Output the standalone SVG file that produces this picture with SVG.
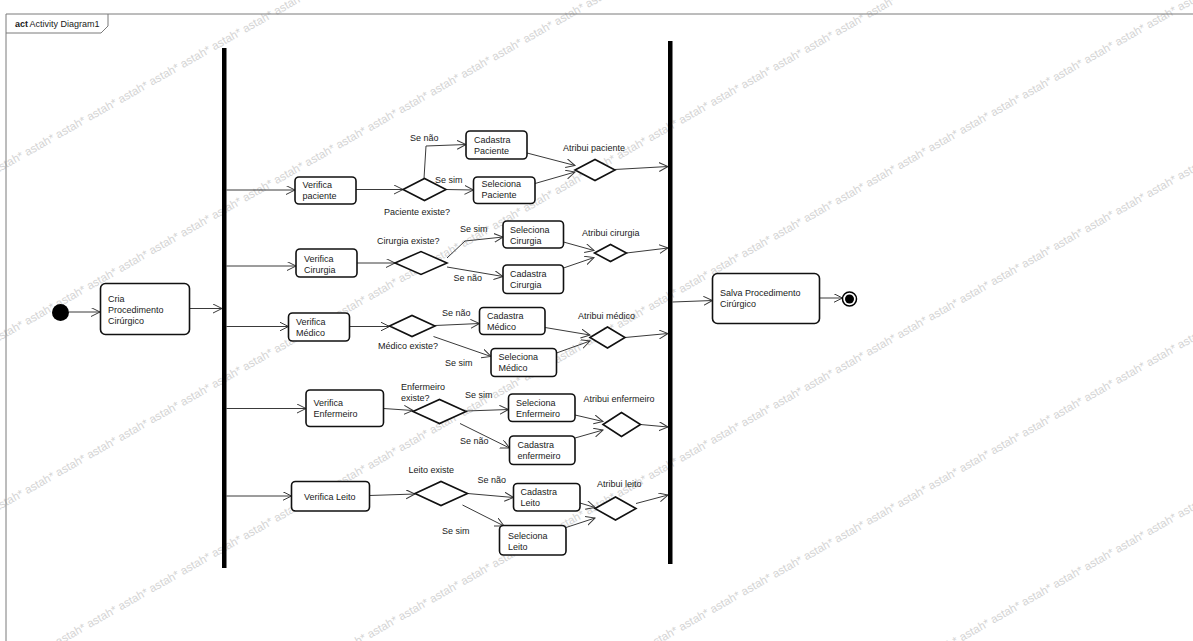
<svg xmlns="http://www.w3.org/2000/svg" xmlns:xlink="http://www.w3.org/1999/xlink" width="1193" height="641" viewBox="0 0 1193 641">
  <style>
    .t { font-family: "Liberation Sans", Arial, sans-serif; font-size: 9px; fill: #1a1a1a; }
    .b { font-weight: bold; }
    .wm { font-family: "Liberation Sans", Arial, sans-serif; font-size: 11.5px; fill: #d4d4d4; }
    .act { fill: #ffffff; stroke: #111111; stroke-width: 1.6; }
    .dec { fill: #ffffff; stroke: #111111; stroke-width: 1.6; }
    .bar { fill: #000000; }
    .edge { fill: none; stroke: #3a3a3a; stroke-width: 1; marker-end: url(#arr); }
    .frame { fill: none; stroke: #7a7a7a; stroke-width: 1; }
  </style>
  <defs>
    <marker id="arr" markerWidth="11" markerHeight="11" refX="9" refY="4.5" orient="auto" markerUnits="userSpaceOnUse">
      <path d="M0,0 L9,4.5 L0,9" fill="none" stroke="#3a3a3a" stroke-width="1"/>
    </marker>
    <text id="wm" class="wm">astah* astah* astah* astah* astah* astah* astah* astah* astah* astah* astah* astah* astah* astah* astah* astah* astah* astah* astah* astah* astah* astah* astah* astah* astah* astah* astah* astah* astah* astah* astah* astah* astah* astah* astah* astah* astah* astah* astah* astah* astah* astah* astah* astah* astah* astah* astah* astah* astah* astah* astah* astah* astah* astah* astah* astah* astah* astah* astah* astah* astah* astah* astah* astah* astah* astah* astah* astah* astah* astah* astah* astah*</text>
  </defs>

  <rect x="0" y="0" width="1193" height="641" fill="#ffffff"/>

  <!-- tool watermark bands -->
  <g id="watermark">
    <use xlink:href="#wm" transform="translate(-4,174) rotate(-29.5)"/>
    <use xlink:href="#wm" transform="translate(-4,343) rotate(-29.5)"/>
    <use xlink:href="#wm" transform="translate(-4,512) rotate(-29.5)"/>
    <use xlink:href="#wm" transform="translate(-4,681) rotate(-29.5)"/>
    <use xlink:href="#wm" transform="translate(-4,850) rotate(-29.5)"/>
    <use xlink:href="#wm" transform="translate(-4,1019) rotate(-29.5)"/>
    <use xlink:href="#wm" transform="translate(-4,1188) rotate(-29.5)"/>
  </g>

  <!-- diagram frame and name tab -->
  <g id="frame">
    <path class="frame" d="M6,641 L6,14 L1193,14"/>
    <path class="frame" d="M6,33 L101,33 L108,26 L108,14"/>
    <text class="t" x="15" y="27"><tspan class="b">act</tspan><tspan dx="1.5">Activity Diagram1</tspan></text>
  </g>

  <!-- connectors -->
  <g id="connectors">
    <path class="edge" d="M69,312 L100,312"/>
    <path class="edge" d="M189,308.5 L222,308.5"/>
    <!-- paciente -->
    <path class="edge" d="M226.5,190 L295,190"/>
    <path class="edge" d="M356,189.5 L403,189.5"/>
    <path class="edge" d="M424,178.5 L426,146 L466,144.5"/>
    <path class="edge" d="M446,189.5 L473.5,190"/>
    <path class="edge" d="M527,153 L575,165.5"/>
    <path class="edge" d="M535,183.5 L575,172"/>
    <path class="edge" d="M614.5,169.5 L668,166.5"/>
    <!-- cirurgia -->
    <path class="edge" d="M226.5,266 L296,266"/>
    <path class="edge" d="M357,263 L395,263"/>
    <path class="edge" d="M447,258 L465,241 L503,237"/>
    <path class="edge" d="M447,267 L503,276.5"/>
    <path class="edge" d="M563.5,242 L594,250.5"/>
    <path class="edge" d="M563.5,268 L594,257.5"/>
    <path class="edge" d="M626.5,253 L668,248"/>
    <!-- médico -->
    <path class="edge" d="M226.5,326.5 L288.5,326.5"/>
    <path class="edge" d="M349.5,326.5 L389.5,326.5"/>
    <path class="edge" d="M435,325.5 L479.5,323.5"/>
    <path class="edge" d="M433.5,336.5 L491,356.5"/>
    <path class="edge" d="M545,327.5 L590,335"/>
    <path class="edge" d="M556.5,353 L590,341"/>
    <path class="edge" d="M625,337.5 L668,333.5"/>
    <!-- enfermeiro -->
    <path class="edge" d="M226.5,408.5 L306,408.5"/>
    <path class="edge" d="M383.5,408.5 L413,410.5"/>
    <path class="edge" d="M466,411 L508.5,409.5"/>
    <path class="edge" d="M460,423.5 L509.5,448"/>
    <path class="edge" d="M575,415 L603,421.5"/>
    <path class="edge" d="M575,438 L603,430"/>
    <path class="edge" d="M640.5,424.5 L668,427"/>
    <!-- leito -->
    <path class="edge" d="M226.5,496 L291.5,496"/>
    <path class="edge" d="M369.5,495.5 L415,494"/>
    <path class="edge" d="M467.5,493.5 L513.5,497.5"/>
    <path class="edge" d="M462.5,505 L504,526"/>
    <path class="edge" d="M580,503 L595,507.5"/>
    <path class="edge" d="M566,527.5 L595,518"/>
    <path class="edge" d="M636,503.5 L668,495"/>
    <!-- join to save and end -->
    <path class="edge" d="M672.5,302 L712.5,300.5"/>
    <path class="edge" d="M819.5,298 L842.5,298"/>
  </g>

  <!-- initial node -->
  <g id="initial"><circle cx="60.5" cy="312.5" r="8.5" fill="#000"/></g>

  <g id="cria">
    <rect class="act" x="100.5" y="283.5" width="89" height="51" rx="5"/>
    <text class="t" x="108" y="302">Cria</text>
    <text class="t" x="108" y="313">Procedimento</text>
    <text class="t" x="108" y="324">Cirúrgico</text>
  </g>

  <g id="fork"><rect class="bar" x="222" y="48" width="4.5" height="520"/></g>
  <g id="join"><rect class="bar" x="668" y="41" width="4.5" height="523"/></g>

  <!-- paciente -->
  <g id="verificaPaciente">
    <rect class="act" x="295" y="177" width="61" height="27" rx="4"/>
    <text class="t" x="302.5" y="188">Verifica</text>
    <text class="t" x="302.5" y="199">paciente</text>
  </g>
  <g id="pacienteExiste">
    <polygon class="dec" points="403,189.5 424.5,178.5 446,189.5 424.5,200.5"/>
    <text class="t" x="384" y="215">Paciente existe?</text>
    <text class="t" x="410" y="141">Se não</text>
    <text class="t" x="435" y="183">Se sim</text>
  </g>
  <g id="cadastraPaciente">
    <rect class="act" x="466" y="131" width="61" height="28" rx="4"/>
    <text class="t" x="474" y="143">Cadastra</text>
    <text class="t" x="474" y="154">Paciente</text>
  </g>
  <g id="selecionaPaciente">
    <rect class="act" x="473.5" y="177" width="61.5" height="26.5" rx="4"/>
    <text class="t" x="481.5" y="187">Seleciona</text>
    <text class="t" x="481.5" y="198">Paciente</text>
  </g>
  <g id="atribuiPaciente">
    <polygon class="dec" points="575,170 595,159.5 615,170 595,180.5"/>
    <text class="t" x="563" y="151">Atribui paciente</text>
  </g>

  <!-- cirurgia -->
  <g id="verificaCirurgia">
    <rect class="act" x="296" y="249" width="61" height="28" rx="4"/>
    <text class="t" x="304" y="261.5">Verifica</text>
    <text class="t" x="304" y="272.5">Cirurgia</text>
  </g>
  <g id="cirurgiaExiste">
    <polygon class="dec" points="395,263 421,251.5 447,263 421,274.5"/>
    <text class="t" x="377" y="244">Cirurgia existe?</text>
    <text class="t" x="460" y="232">Se sim</text>
    <text class="t" x="453.5" y="281">Se não</text>
  </g>
  <g id="selecionaCirurgia">
    <rect class="act" x="503" y="221" width="60.5" height="27" rx="4"/>
    <text class="t" x="510" y="233">Seleciona</text>
    <text class="t" x="510" y="244">Cirurgia</text>
  </g>
  <g id="cadastraCirurgia">
    <rect class="act" x="503" y="265" width="60.5" height="28.5" rx="4"/>
    <text class="t" x="510" y="277">Cadastra</text>
    <text class="t" x="510" y="288">Cirurgia</text>
  </g>
  <g id="atribuiCirurgia">
    <polygon class="dec" points="594.5,253 610.5,244.5 626.5,253 610.5,261.5"/>
    <text class="t" x="582" y="235.5">Atribui cirurgia</text>
  </g>

  <!-- médico -->
  <g id="verificaMedico">
    <rect class="act" x="288.5" y="313" width="61" height="28" rx="4"/>
    <text class="t" x="296" y="324.5">Verifica</text>
    <text class="t" x="296" y="335.5">Médico</text>
  </g>
  <g id="medicoExiste">
    <polygon class="dec" points="389.5,326 412,315.5 435,326 412,336.5"/>
    <text class="t" x="378" y="349">Médico existe?</text>
    <text class="t" x="442" y="316">Se não</text>
    <text class="t" x="445" y="366">Se sim</text>
  </g>
  <g id="cadastraMedico">
    <rect class="act" x="479.5" y="307.5" width="65.5" height="27" rx="4"/>
    <text class="t" x="487" y="319">Cadastra</text>
    <text class="t" x="487" y="330">Médico</text>
  </g>
  <g id="selecionaMedico">
    <rect class="act" x="491" y="348.5" width="65.5" height="28" rx="4"/>
    <text class="t" x="498.5" y="360">Seleciona</text>
    <text class="t" x="498.5" y="371">Médico</text>
  </g>
  <g id="atribuiMedico">
    <polygon class="dec" points="590,337.5 607.5,327 625,337.5 607.5,348"/>
    <text class="t" x="578" y="318.5">Atribui médico</text>
  </g>

  <!-- enfermeiro -->
  <g id="verificaEnfermeiro">
    <rect class="act" x="306" y="390" width="77.5" height="36.5" rx="4"/>
    <text class="t" x="313.5" y="405.5">Verifica</text>
    <text class="t" x="313.5" y="417">Enfermeiro</text>
  </g>
  <g id="enfermeiroExiste">
    <polygon class="dec" points="413,411.5 439.5,399.5 466,411.5 439.5,423.5"/>
    <text class="t" x="401" y="390">Enfermeiro</text>
    <text class="t" x="401" y="401">existe?</text>
    <text class="t" x="465" y="398">Se sim</text>
    <text class="t" x="460" y="444">Se não</text>
  </g>
  <g id="selecionaEnfermeiro">
    <rect class="act" x="508.5" y="394" width="66.5" height="27.5" rx="4"/>
    <text class="t" x="516" y="405.5">Seleciona</text>
    <text class="t" x="516" y="417">Enfermeiro</text>
  </g>
  <g id="cadastraEnfermeiro">
    <rect class="act" x="509.5" y="436" width="65.5" height="28.5" rx="4"/>
    <text class="t" x="517.5" y="448">Cadastra</text>
    <text class="t" x="517.5" y="459">enfermeiro</text>
  </g>
  <g id="atribuiEnfermeiro">
    <polygon class="dec" points="603,424.5 621.5,412.5 640.5,424.5 621.5,436.5"/>
    <text class="t" x="583.5" y="401.5">Atribui enfermeiro</text>
  </g>

  <!-- leito -->
  <g id="verificaLeito">
    <rect class="act" x="291.5" y="481.5" width="78" height="29.5" rx="4"/>
    <text class="t" x="304" y="500">Verifica Leito</text>
  </g>
  <g id="leitoExiste">
    <polygon class="dec" points="415,493.5 441,481.5 467.5,493.5 441,505.5"/>
    <text class="t" x="408.5" y="473">Leito existe</text>
    <text class="t" x="477.5" y="483">Se não</text>
    <text class="t" x="442" y="534">Se sim</text>
  </g>
  <g id="cadastraLeito">
    <rect class="act" x="513.5" y="483.5" width="66.5" height="27.5" rx="4"/>
    <text class="t" x="520.5" y="495">Cadastra</text>
    <text class="t" x="520.5" y="506">Leito</text>
  </g>
  <g id="selecionaLeito">
    <rect class="act" x="499.5" y="525.5" width="66.5" height="29.5" rx="4"/>
    <text class="t" x="508" y="538.5">Seleciona</text>
    <text class="t" x="508" y="549.5">Leito</text>
  </g>
  <g id="atribuiLeito">
    <polygon class="dec" points="595,508.5 615.5,497 636,508.5 615.5,520"/>
    <text class="t" x="597" y="486.5">Atribui leito</text>
  </g>

  <!-- save and final -->
  <g id="salva">
    <rect class="act" x="712.5" y="273.5" width="107" height="50" rx="5"/>
    <text class="t" x="720" y="296">Salva Procedimento</text>
    <text class="t" x="720" y="307">Cirúrgico</text>
  </g>
  <g id="final">
    <circle cx="849.5" cy="299" r="7" fill="#fff" stroke="#000" stroke-width="1.5"/>
    <circle cx="849.5" cy="299" r="4.5" fill="#000"/>
  </g>
</svg>
